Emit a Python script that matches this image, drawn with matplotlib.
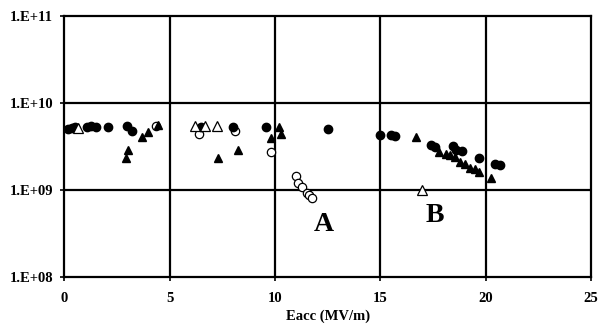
import math

import matplotlib
matplotlib.use("Agg")
import matplotlib.pyplot as plt
from matplotlib.ticker import FixedLocator, FuncFormatter

# Eacc in MV/m, Q0 in units of 1e9
filledCircleX = [0.2, 0.35, 0.5, 1.1, 1.25, 1.5, 2.1, 3.0, 3.2, 6.5, 8.0, 9.6, 12.5,
                 15.0, 15.5, 15.7, 17.4, 17.6, 18.45, 18.6, 18.9, 19.7, 20.45, 20.7]
filledCircleQ = [5.0, 5.2, 5.3, 5.3, 5.4, 5.3, 5.3, 5.4, 4.8, 5.3, 5.3, 5.3, 5.0,
                 4.3, 4.3, 4.2, 3.3, 3.1, 3.2, 2.9, 2.8, 2.3, 2.0, 1.95]

filledTriX = [2.95, 3.05, 3.7, 4.0, 4.45, 7.3, 8.25, 9.8, 10.2, 10.3,
              16.7, 17.8, 18.1, 18.3, 18.55, 18.8, 19.0, 19.25, 19.5, 19.7, 20.25]
filledTriQ = [2.35, 2.9, 4.0, 4.6, 5.6, 2.35, 2.9, 3.9, 5.3, 4.4,
              4.0, 2.7, 2.6, 2.5, 2.4, 2.1, 2.0, 1.8, 1.75, 1.6, 1.38]

openTriX = [0.65, 6.2, 6.7, 7.25, 17.0]
openTriQ = [5.2, 5.4, 5.4, 5.4, 1.0]

openCircleX = [4.35, 6.4, 8.1, 9.8, 11.0, 11.1, 11.3, 11.5, 11.6, 11.75]
openCircleQ = [5.4, 4.4, 4.7, 2.7, 1.45, 1.2, 1.08, 0.92, 0.87, 0.81]

yTicks = [1e8, 1e9, 1e10, 1e11]
xTicks = [0, 5, 10, 15, 20, 25]


def toQ(values):
    return [v * 1e9 for v in values]


def sciLabel(value, pos):
    exponent = int(round(math.log10(value)))
    return f"1.E+{exponent:02d}"


plt.rcParams["font.family"] = ["Liberation Serif", "DejaVu Serif"]

fig = plt.figure(figsize=(6.0, 3.3), dpi=100)
ax = fig.add_axes([0.107, 0.161, 0.878, 0.791])

ax.set_yscale("log")
ax.set_xlim(0, 25)
ax.set_ylim(1e8, 1e11)

for gridX in xTicks[1:-1]:
    ax.axvline(gridX, color="black", linewidth=1.6, zorder=1)
for gridY in yTicks[1:-1]:
    ax.axhline(gridY, color="black", linewidth=1.6, zorder=1)

markerSize = 6
ax.plot(openCircleX, toQ(openCircleQ), linestyle="none", marker="o", markersize=markerSize,
        markerfacecolor="white", markeredgecolor="black", markeredgewidth=0.9, zorder=3)
ax.plot(filledCircleX, toQ(filledCircleQ), linestyle="none", marker="o", markersize=markerSize,
        color="black", zorder=3)
ax.plot(filledTriX, toQ(filledTriQ), linestyle="none", marker="^", markersize=markerSize,
        color="black", zorder=3)
ax.plot(openTriX, toQ(openTriQ), linestyle="none", marker="^", markersize=markerSize + 0.5,
        markerfacecolor="white", markeredgecolor="black", markeredgewidth=0.9, zorder=4)

ax.text(12.3, 4.0e8, "A", fontsize=20, fontweight="bold", ha="center", va="center")
ax.text(17.6, 5.1e8, "B", fontsize=20, fontweight="bold", ha="center", va="center")

ax.yaxis.set_major_locator(FixedLocator(yTicks))
ax.yaxis.set_major_formatter(FuncFormatter(sciLabel))
ax.yaxis.set_minor_locator(FixedLocator([]))
ax.xaxis.set_major_locator(FixedLocator(xTicks))

for spine in ax.spines.values():
    spine.set_linewidth(1.6)

ax.tick_params(axis="both", direction="out", length=3, width=1.2, labelsize=10.5)
ax.tick_params(axis="x", pad=8)
ax.tick_params(axis="y", pad=5)
for label in ax.get_xticklabels() + ax.get_yticklabels():
    label.set_fontweight("bold")

ax.set_xlabel("Eacc (MV/m)", fontsize=10.5, fontweight="bold", labelpad=3)

fig.savefig("out.png", dpi=100)
